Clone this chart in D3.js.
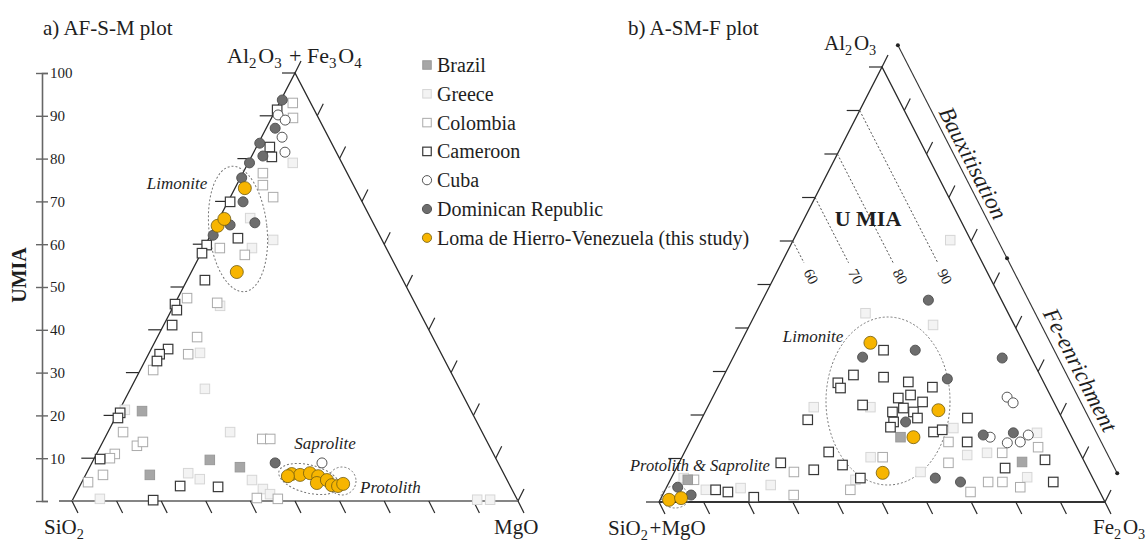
<!DOCTYPE html>
<html><head><meta charset="utf-8">
<script src="https://cdn.jsdelivr.net/npm/d3@7"></script>
<style>
body{margin:0;background:#fff}
svg{display:block}
text{font-family:"Liberation Serif","Times New Roman","DejaVu Serif",serif;fill:#1e1e1e}
</style>
</head><body>
<svg id="c" width="1147" height="544"></svg>
<script>
// ---------------- DATA ----------------
const categories = ["Brazil","Greece","Colombia","Cameroon","Cuba","Dominican Republic","Loma de Hierro-Venezuela (this study)"];
const umiaTicks = [0,10,20,30,40,50,60,70,80,90,100];
const isoUmia = [60,70,80,90];

// Panel a (AF-S-M): [AF, M] in %, S = 100 - AF - M
const aBrazil = [[21.0,5.2],[9.6,26.1],[6.1,14.4],[7.9,33.7]];
const aGreece = [[79.0,10.0],[61.0,14.6],[45.6,10.4],[34.6,11.4],[26.2,16.7],[16.1,27.4],[6.5,22.8],[5.1,26.1],[4.9,37.9],[2.8,41.4],[1.6,43.6],[0.5,6.0],[0.3,90.7],[0.3,93.6],[21.3,1.2],[59.1,10.8],[66.1,6.9]];
const aColombia = [[93.0,3.0],[89.5,4.8],[76.6,4.5],[73.8,5.9],[71.0,9.6],[57.5,10.0],[59.1,3.6],[47.4,2.1],[46.3,9.4],[38.3,8.9],[34.3,8.9],[30.6,2.9],[16.1,3.4],[12.9,8.1],[13.8,9.0],[11.0,4.1],[10.0,3.5],[6.1,3.9],[4.4,1.4],[14.5,35.4],[14.5,37.2],[0.5,45.9],[0.7,41.1]];
const aCameroon = [[91.4,0.3],[82.7,3.0],[80.4,4.6],[69.9,0.5],[61.4,6.5],[59.8,0.3],[57.9,0.2],[51.6,4.0],[46.0,0.1],[44.6,1.2],[41.1,1.9],[35.5,3.8],[34.3,2.5],[32.7,2.7],[20.6,0.5],[19.4,0.6],[9.8,1.4],[3.5,22.5],[3.3,31.1],[0.2,18.1]];
const aCuba = [[90.2,1.1],[89.0,3.3],[85.0,4.6],[81.5,7.0],[8.9,51.6]];
const aDominican = [[93.7,0.3],[87.1,2.0],[83.6,0.3],[80.6,2.5],[79.0,0.3],[75.5,0.3],[69.9,3.4],[65.0,8.5],[64.5,3.2],[62.1,0.6],[8.9,41.1],[5.6,45.4]];
const aLoma = [[73.1,2.2],[64.3,0.5],[65.9,1.2],[53.5,10.2],[6.3,46.1],[6.1,48.1],[6.5,50.1],[5.8,52.3],[4.2,52.8],[4.9,54.7],[3.7,56.4],[3.5,57.9],[4.0,58.8],[5.8,45.5]];

// Panel b (A-SM-F): [A, F] in %, SM = 100 - A - F
const bBrazil = [[14.9,46.7],[9.2,76.8],[5.1,3.9]];
const bGreece = [[43.4,24.6],[40.7,41.1],[60.2,35.2],[21.8,23.8],[21.8,36.5],[17.0,57.5],[10.8,63.7],[6.9,55.2],[5.1,41.5],[10.3,42.3],[11.3,67.9],[15.9,76.8],[5.7,79.7],[3.9,23.1],[5.5,2.8],[2.8,9.1],[3.2,16.7]];
const bColombia = [[13.8,58.0],[9.0,60.4],[2.8,41.5],[1.6,29.4],[11.3,71.3],[12.6,78.7],[3.4,79.3],[2.3,68.7],[4.6,74.7],[4.6,71.5],[6.9,26.8],[5.1,5.3],[10.3,45.0]];
const bCameroon = [[34.9,32.9],[29.2,29.0],[28.7,36.0],[27.6,42.1],[26.4,48.1],[27.4,26.4],[26.2,27.6],[22.3,34.5],[23.9,41.7],[24.6,44.1],[23.0,47.6],[20.7,42.0],[21.6,44.0],[20.7,46.7],[18.4,43.4],[17.2,43.3],[19.3,48.3],[16.1,53.5],[16.6,55.2],[19.3,59.5],[13.8,62.2],[18.9,23.9],[11.5,32.3],[7.4,31.0],[8.5,36.9],[5.5,42.4],[7.8,73.7],[9.7,81.7],[4.6,86.1],[9.0,22.8],[2.8,11.3],[1.1,20.7],[2.3,14.3]];
const bCuba = [[24.1,66.0],[22.8,68.0],[14.9,66.8],[13.6,71.3],[13.8,74.1],[15.4,75.1]];
const bDominican = [[33.3,29.0],[34.9,40.0],[28.3,50.5],[33.1,60.4],[18.4,46.1],[15.4,65.0],[15.9,71.5],[5.5,59.2],[4.6,65.3],[46.4,37.2],[3.4,2.5],[1.6,6.4]];
const bLoma = [[36.6,29.1],[21.1,52.1],[14.9,49.6],[6.7,46.8],[0.5,2.0],[0.9,4.5]];

// ---------------- STYLES ----------------
const styles = {
  "Brazil":{shape:"sq", fill:"#a6a6a6", stroke:"#999", sw:1},
  "Greece":{shape:"sq", fill:"#f3f3f3", stroke:"#d6d6d6", sw:1},
  "Colombia":{shape:"sq", fill:"#fff", stroke:"#aaa", sw:1},
  "Cameroon":{shape:"sq", fill:"#fff", stroke:"#383838", sw:1.2},
  "Cuba":{shape:"ci", fill:"#fff", stroke:"#555", sw:1},
  "Dominican Republic":{shape:"ci", fill:"#6d6d6d", stroke:"#555", sw:1},
  "Loma de Hierro-Venezuela (this study)":{shape:"ci", fill:"#f7b500", stroke:"#6f5a10", sw:0.8, r:6.5}
};
const drawOrder = ["Greece","Colombia","Brazil","Cameroon","Cuba","Dominican Republic","Loma de Hierro-Venezuela (this study)"];
const aData = {"Brazil":aBrazil,"Greece":aGreece,"Colombia":aColombia,"Cameroon":aCameroon,"Cuba":aCuba,"Dominican Republic":aDominican,"Loma de Hierro-Venezuela (this study)":aLoma};
const bData = {"Brazil":bBrazil,"Greece":bGreece,"Colombia":bColombia,"Cameroon":bCameroon,"Cuba":bCuba,"Dominican Republic":bDominican,"Loma de Hierro-Venezuela (this study)":bLoma};

const svg = d3.select("#c");

// ---------------- SCALES ----------------
// ternary -> cartesian: xn = right component + top/2 ; yn = top component
const ax = d3.scaleLinear().domain([0,100]).range([72,518]);
const ay = d3.scaleLinear().domain([0,100]).range([501,73]);
const bx = d3.scaleLinear().domain([0,100]).range([659,1105]);
const by = d3.scaleLinear().domain([0,100]).range([502,67]);
const projA = d => [ax(d[1] + d[0]/2), ay(d[0])];
const projB = d => [bx(d[1] + d[0]/2), by(d[0])];

function drawMarker(g, x, y, st, small){
  if(st.shape==="sq"){
    const s = small ? 8.5 : 9.5;
    g.append("rect").attr("x",x-s/2).attr("y",y-s/2).attr("width",s).attr("height",s)
      .attr("fill",st.fill).attr("stroke",st.stroke).attr("stroke-width",st.sw);
  } else {
    const r = small ? 4.6 : (st.r || 5);
    g.append("circle").attr("cx",x).attr("cy",y).attr("r",r)
      .attr("fill",st.fill).attr("stroke",st.stroke).attr("stroke-width",st.sw);
  }
}

function triangle(proj, baseColor, baseWidth){
  const g = svg.append("g");
  const L = proj([0,0]), T = proj([100,0]), R = proj([0,100]);
  const line = d3.line();
  g.append("path").attr("d", line([L,T,R])).attr("fill","none").attr("stroke","#2a2a2a").attr("stroke-width",1.3);
  g.append("path").attr("d", line([L,R])).attr("fill","none").attr("stroke",baseColor).attr("stroke-width",baseWidth);
  const tk = d3.range(0,101,10);
  tk.forEach(k=>{
    const p = proj([k,0]);           // left edge
    g.append("line").attr("x1",p[0]).attr("y1",p[1]).attr("x2",p[0]-13).attr("y2",p[1]).attr("stroke","#2a2a2a").attr("stroke-width",1.2);
    const q = proj([0,k]);           // base
    g.append("line").attr("x1",q[0]).attr("y1",q[1]).attr("x2",q[0]+6).attr("y2",q[1]+12).attr("stroke","#2a2a2a").attr("stroke-width",1.2);
    const r = proj([k,100-k]);       // right edge
    g.append("line").attr("x1",r[0]).attr("y1",r[1]).attr("x2",r[0]+6).attr("y2",r[1]-12).attr("stroke","#2a2a2a").attr("stroke-width",1.2);
  });
  return g;
}

function plotPoints(proj, data){
  const g = svg.append("g");
  drawOrder.forEach(name=>{
    data[name].forEach(d=>{ const p = proj(d); drawMarker(g, p[0], p[1], styles[name], false); });
  });
}

function chem(g, x, y, parts, size, anchor){
  const t = g.append("text").attr("x",x).attr("y",y).attr("font-size",size).attr("text-anchor",anchor||"start");
  parts.forEach(p=>{
    if(p.sub){ t.append("tspan").attr("dy",size*0.22).attr("font-size",size*0.68).text(p.t); t.append("tspan").attr("dy",-size*0.22).text("\u200a"); }
    else t.append("tspan").text(p.t);
  });
}

// ---------------- PANEL A ----------------
svg.append("text").attr("x",43).attr("y",35).attr("font-size",21).text("a) AF-S-M plot");
chem(svg, 227, 63, [{t:"Al"},{t:"2",sub:1},{t:"O"},{t:"3",sub:1},{t:" + Fe"},{t:"3",sub:1},{t:"O"},{t:"4",sub:1}], 22);
chem(svg, 44, 534, [{t:"SiO"},{t:"2",sub:1}], 21);
chem(svg, 494, 534, [{t:"MgO"}], 21);

// UMIA axis
const axisG = svg.append("g").attr("transform","translate(42,0)");
axisG.call(d3.axisRight(ay).tickValues(umiaTicks).tickSizeOuter(0).tickSize(6).tickPadding(2)
  .tickFormat(d => d===0 ? "" : d));
axisG.select(".domain").attr("stroke","#666").attr("stroke-width",1.6);
axisG.selectAll(".tick line").attr("stroke","#666").attr("stroke-width",1.4).attr("x1",-6);
axisG.selectAll(".tick text").attr("font-family","Liberation Serif, serif").attr("font-size",15).attr("fill","#333");
svg.append("text").attr("transform","translate(26,275) rotate(-90)").attr("text-anchor","middle")
  .attr("font-size",20).attr("font-weight","bold").text("UMIA");

triangle(projA, "#858585", 2);

// dotted fields
const ell = (cx,cy,rx,ry,rot) => svg.append("ellipse").attr("cx",cx).attr("cy",cy).attr("rx",rx).attr("ry",ry)
  .attr("transform",`rotate(${rot},${cx},${cy})`).attr("fill","none").attr("stroke","#777").attr("stroke-width",1).attr("stroke-dasharray","2,2");
ell(238,229,29,63,-6);
ell(309,479,31,14,14);
ell(342,481,14,14,0);

plotPoints(projA, aData);

svg.append("text").attr("x",177).attr("y",189).attr("text-anchor","middle").attr("font-size",17).attr("font-style","italic").text("Limonite");
svg.append("text").attr("x",325).attr("y",449).attr("text-anchor","middle").attr("font-size",17).attr("font-style","italic").text("Saprolite");
svg.append("text").attr("x",360).attr("y",493).attr("font-size",17).attr("font-style","italic").text("Protolith");

// legend
const leg = svg.append("g");
categories.forEach((c,i)=>{
  const y = 65 + i*28.8;
  drawMarker(leg, 427, y, styles[c], true);
  leg.append("text").attr("x",437).attr("y",y+7).attr("font-size",20).text(c);
});

// ---------------- PANEL B ----------------
svg.append("text").attr("x",628).attr("y",35).attr("font-size",21).text("b) A-SM-F plot");
chem(svg, 824, 50, [{t:"Al"},{t:"2",sub:1},{t:"O"},{t:"3",sub:1}], 21);
chem(svg, 608, 535, [{t:"SiO"},{t:"2",sub:1},{t:"+MgO"}], 21);
chem(svg, 1093, 534, [{t:"Fe"},{t:"2",sub:1},{t:"O"},{t:"3",sub:1}], 21);

triangle(projB, "#333", 2.2);

// iso-UMIA dashed lines
isoUmia.forEach(u=>{
  const p0 = projB([u,0]), p1 = projB([55,u-55]);
  svg.append("line").attr("x1",p0[0]).attr("y1",p0[1]).attr("x2",p1[0]).attr("y2",p1[1])
    .attr("stroke","#555").attr("stroke-width",1).attr("stroke-dasharray","2,2");
  const dx = p1[0]-p0[0], dy = p1[1]-p0[1], len = Math.hypot(dx,dy);
  const ang = Math.atan2(dy,dx)*180/Math.PI;
  const lx = p1[0] + dx/len*8, ly = p1[1] + dy/len*8;
  svg.append("text").attr("transform",`translate(${lx},${ly}) rotate(${ang})`).attr("font-size",15)
    .attr("dominant-baseline","central").text(u);
});
svg.append("text").attr("x",868).attr("y",226).attr("text-anchor","middle").attr("font-size",22).attr("font-weight","bold").text("U MIA");

// process arrow parallel to right edge
{
  const T = projB([100,0]), R = projB([0,100]);
  const dx = R[0]-T[0], dy = R[1]-T[1], len = Math.hypot(dx,dy);
  const ux = dx/len, uy = dy/len, nx = uy, ny = -ux;
  const pt = (t,d) => [T[0]+ux*t+nx*d, T[1]+uy*t+ny*d];
  const s = pt(-12,24), e = pt(len-20,24), m = pt(len*0.465,24);
  svg.append("line").attr("x1",s[0]).attr("y1",s[1]).attr("x2",e[0]).attr("y2",e[1]).attr("stroke","#333").attr("stroke-width",1.1);
  [s,m,e].forEach(p=>svg.append("circle").attr("cx",p[0]).attr("cy",p[1]).attr("r",2).attr("fill","#222"));
  const ang = Math.atan2(dy,dx)*180/Math.PI;
  const l1 = pt(127,37), l2 = pt(360,38);
  svg.append("text").attr("transform",`translate(${l1[0]},${l1[1]}) rotate(${ang})`).attr("text-anchor","middle")
    .attr("dominant-baseline","central").attr("font-size",23).attr("font-style","italic").text("Bauxitisation");
  svg.append("text").attr("transform",`translate(${l2[0]},${l2[1]}) rotate(${ang})`).attr("text-anchor","middle")
    .attr("dominant-baseline","central").attr("font-size",23).attr("font-style","italic").text("Fe-enrichment");
}

svg.append("ellipse").attr("cx",888).attr("cy",401).attr("rx",62).attr("ry",84).attr("fill","none")
  .attr("stroke","#777").attr("stroke-width",1).attr("stroke-dasharray","2,2");
svg.append("ellipse").attr("cx",675).attr("cy",497).attr("rx",14).attr("ry",11).attr("fill","none")
  .attr("stroke","#777").attr("stroke-width",1).attr("stroke-dasharray","2,2");

plotPoints(projB, bData);

svg.append("text").attr("x",813).attr("y",342).attr("text-anchor","middle").attr("font-size",17).attr("font-style","italic").text("Limonite");
svg.append("text").attr("x",630).attr("y",471).attr("font-size",16.5).attr("font-style","italic").text("Protolith & Saprolite");
</script>
</body></html>
